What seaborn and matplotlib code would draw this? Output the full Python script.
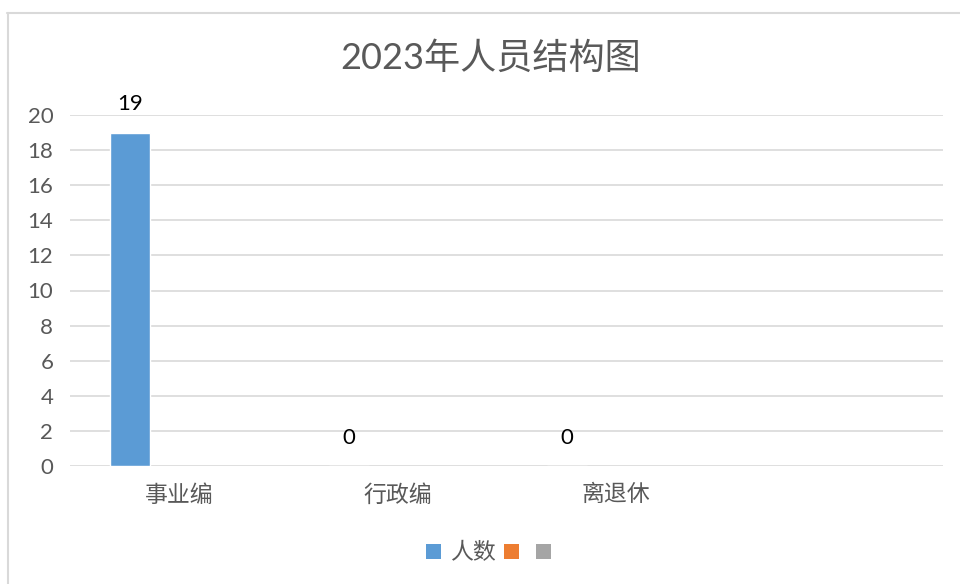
import pandas as pd
import numpy as np
import matplotlib
matplotlib.use("Agg")
import matplotlib.pyplot as plt
from matplotlib.patches import Patch
from matplotlib.lines import Line2D
import seaborn as sns

# chart data
categories = ["事业编", "行政编", "离退休", ""]
series_names = ["人数", "系列2", "系列3"]
headcount = [19, 0, 0, np.nan]
series2 = [np.nan, np.nan, np.nan, np.nan]
series3 = [np.nan, np.nan, np.nan, np.nan]
colors = ["#5b9bd5", "#ed7d31", "#a5a5a5"]

rows = []
for name, vals in zip(series_names, [headcount, series2, series3]):
    for cat, v in zip(categories, vals):
        rows.append({"类别": cat, "系列": name, "值": v})
df = pd.DataFrame(rows)

sns.set_style("white")
plt.rcParams['font.family'] = ['Lato', 'Noto Sans CJK SC', 'DejaVu Sans']

fig = plt.figure(figsize=(9.6, 5.84), dpi=100)
ax = fig.add_axes([70 / 960, 1 - 466 / 584, 873 / 960, 351 / 584])

sns.barplot(data=df, x="类别", y="值", hue="系列", order=categories,
            hue_order=series_names, palette=colors, width=0.67, gap=0.18,
            saturation=1, errorbar=None, legend=False, ax=ax)

ax.set_xlim(-0.5, len(categories) - 0.5)
ax.set_ylim(0, 20)
ax.set_yticks(range(0, 21, 2))
ax.grid(axis='y', color='#d9d9d9', linewidth=1.2)
ax.set_axisbelow(True)
for s in ax.spines.values():
    s.set_visible(False)
ax.set_xlabel("")
ax.set_ylabel("")
ax.tick_params(axis='y', length=0, pad=12, labelsize=16, labelcolor='#595959')
ax.tick_params(axis='x', length=0, pad=13, labelsize=16.5, labelcolor='#595959')

# data labels on the first series (skip empty slots)
for b in ax.containers[0]:
    if b is None or np.isnan(b.get_height()):
        continue
    ax.annotate(f"{int(b.get_height())}", (b.get_x() + b.get_width() / 2, b.get_height()),
                xytext=(0, 13), textcoords='offset points', ha='center', va='bottom',
                fontsize=16, color='black', annotation_clip=False)

fig.text(0.511, 1 - 58 / 584, "2023年人员结构图", ha='center', va='center',
         fontsize=26, color='#595959')

handles = [Patch(facecolor=c, edgecolor='none') for c in colors]
fig.legend(handles, ["人数", "", ""], loc='center', bbox_to_anchor=(0.514, 1 - 553 / 584),
           ncol=3, frameon=False, fontsize=16.5, handlelength=0.65, handleheight=0.65,
           handletextpad=0.4, columnspacing=0.35, labelcolor='#595959')

# chart frame
fig.add_artist(Line2D([7 / 960, 1.0], [1 - 13 / 584, 1 - 13 / 584],
                      color='#d9d9d9', linewidth=1.5))
fig.add_artist(Line2D([8 / 960, 8 / 960], [0, 1 - 13 / 584],
                      color='#d9d9d9', linewidth=1.5))

fig.savefig("out.png", dpi=100)
plt.close(fig)
